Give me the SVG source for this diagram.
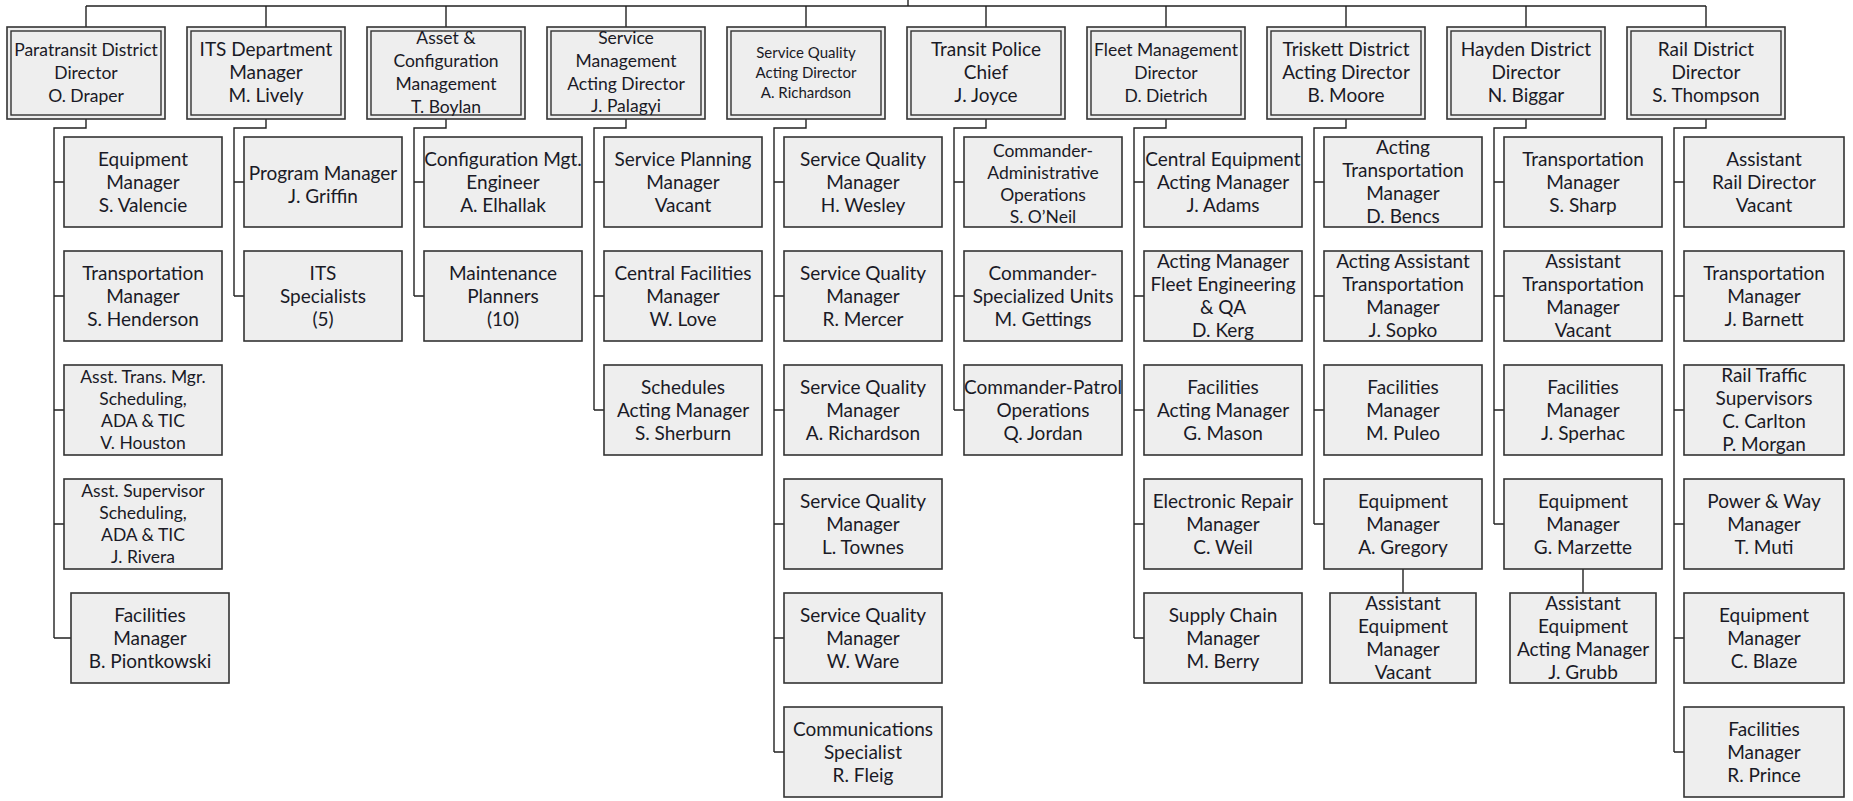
<svg xmlns="http://www.w3.org/2000/svg" width="1853" height="801" viewBox="0 0 1853 801">
<style>
.bg{fill:#ffffff}
.o{fill:#eeeeee;stroke:#333;stroke-width:1.6}
.i{fill:none;stroke:#333;stroke-width:1.4}
.b{fill:#eeeeee;stroke:#333;stroke-width:1.6}
.c{fill:none;stroke:#222;stroke-width:1.4}
text{font-family:Lato,"Open Sans","Liberation Sans",sans-serif;font-size:19px;fill:#1a1a26;text-anchor:middle}
.s17{font-size:17.5px}
.s15{font-size:15px}
</style>
<rect class="bg" x="0" y="0" width="1853" height="801"/>
<g id="connectors">
<path class="c" d="M86,6 H1706 M908,0 V6 M86,6 V27 M266,6 V27 M446,6 V27 M626,6 V27 M806,6 V27 M986,6 V27 M1166,6 V27 M1346,6 V27 M1526,6 V27 M1706,6 V27"/>
<path class="c" d="M86,119 V128 H54 V638 M54,182 H64 M54,296 H64 M54,410 H64 M54,524 H64 M54,638 H71"/>
<path class="c" d="M266,119 V128 H234 V296 M234,182 H244 M234,296 H244"/>
<path class="c" d="M446,119 V128 H414 V296 M414,182 H424 M414,296 H424"/>
<path class="c" d="M626,119 V128 H594 V410 M594,182 H604 M594,296 H604 M594,410 H604"/>
<path class="c" d="M806,119 V128 H774 V752 M774,182 H784 M774,296 H784 M774,410 H784 M774,524 H784 M774,638 H784 M774,752 H784"/>
<path class="c" d="M986,119 V128 H954 V410 M954,182 H964 M954,296 H964 M954,410 H964"/>
<path class="c" d="M1166,119 V128 H1134 V638 M1134,182 H1144 M1134,296 H1144 M1134,410 H1144 M1134,524 H1144 M1134,638 H1144"/>
<path class="c" d="M1346,119 V128 H1314 V524 M1314,182 H1324 M1314,296 H1324 M1314,410 H1324 M1314,524 H1324 M1403,569 V593"/>
<path class="c" d="M1526,119 V128 H1494 V524 M1494,182 H1504 M1494,296 H1504 M1494,410 H1504 M1494,524 H1504 M1583,569 V593"/>
<path class="c" d="M1706,119 V128 H1674 V752 M1674,182 H1684 M1674,296 H1684 M1674,410 H1684 M1674,524 H1684 M1674,638 H1684 M1674,752 H1684"/>
</g>

<!-- Top level -->
<g id="paratransit"><rect class="o" x="7" y="27" width="158" height="92"/><rect class="i" x="11" y="31" width="150" height="84"/>
<text class="s17"><tspan x="86" y="56">Paratransit District</tspan><tspan x="86" y="79">Director</tspan><tspan x="86" y="102">O. Draper</tspan></text></g>
<g id="its"><rect class="o" x="187" y="27" width="158" height="92"/><rect class="i" x="191" y="31" width="150" height="84"/>
<text><tspan x="266" y="56">ITS Department</tspan><tspan x="266" y="79">Manager</tspan><tspan x="266" y="102">M. Lively</tspan></text></g>
<g id="asset"><rect class="o" x="367" y="27" width="158" height="92"/><rect class="i" x="371" y="31" width="150" height="84"/>
<text class="s17"><tspan x="446" y="44">Asset &amp;</tspan><tspan x="446" y="67">Configuration</tspan><tspan x="446" y="90">Management</tspan><tspan x="446" y="113">T. Boylan</tspan></text></g>
<g id="service-mgmt"><rect class="o" x="547" y="27" width="158" height="92"/><rect class="i" x="551" y="31" width="150" height="84"/>
<text class="s17"><tspan x="626" y="44">Service</tspan><tspan x="626" y="67">Management</tspan><tspan x="626" y="90">Acting Director</tspan><tspan x="626" y="112">J. Palagyi</tspan></text></g>
<g id="service-quality"><rect class="o" x="727" y="27" width="158" height="92"/><rect class="i" x="731" y="31" width="150" height="84"/>
<text class="s15"><tspan x="806" y="58">Service Quality</tspan><tspan x="806" y="78">Acting Director</tspan><tspan x="806" y="98">A. Richardson</tspan></text></g>
<g id="police"><rect class="o" x="907" y="27" width="158" height="92"/><rect class="i" x="911" y="31" width="150" height="84"/>
<text><tspan x="986" y="56">Transit Police</tspan><tspan x="986" y="79">Chief</tspan><tspan x="986" y="102">J. Joyce</tspan></text></g>
<g id="fleet"><rect class="o" x="1087" y="27" width="158" height="92"/><rect class="i" x="1091" y="31" width="150" height="84"/>
<text class="s17"><tspan x="1166" y="56">Fleet Management</tspan><tspan x="1166" y="79">Director</tspan><tspan x="1166" y="102">D. Dietrich</tspan></text></g>
<g id="triskett"><rect class="o" x="1267" y="27" width="158" height="92"/><rect class="i" x="1271" y="31" width="150" height="84"/>
<text><tspan x="1346" y="56">Triskett District</tspan><tspan x="1346" y="79">Acting Director</tspan><tspan x="1346" y="102">B. Moore</tspan></text></g>
<g id="hayden"><rect class="o" x="1447" y="27" width="158" height="92"/><rect class="i" x="1451" y="31" width="150" height="84"/>
<text><tspan x="1526" y="56">Hayden District</tspan><tspan x="1526" y="79">Director</tspan><tspan x="1526" y="102">N. Biggar</tspan></text></g>
<g id="rail"><rect class="o" x="1627" y="27" width="158" height="92"/><rect class="i" x="1631" y="31" width="150" height="84"/>
<text><tspan x="1706" y="56">Rail District</tspan><tspan x="1706" y="79">Director</tspan><tspan x="1706" y="102">S. Thompson</tspan></text></g>

<!-- Paratransit children -->
<g id="p1"><rect class="b" x="64" y="137" width="158" height="90"/><text><tspan x="143" y="166">Equipment</tspan><tspan x="143" y="189">Manager</tspan><tspan x="143" y="212">S. Valencie</tspan></text></g>
<g id="p2"><rect class="b" x="64" y="251" width="158" height="90"/><text><tspan x="143" y="280">Transportation</tspan><tspan x="143" y="303">Manager</tspan><tspan x="143" y="326">S. Henderson</tspan></text></g>
<g id="p3"><rect class="b" x="64" y="365" width="158" height="90"/><text class="s17"><tspan x="143" y="383">Asst. Trans. Mgr.</tspan><tspan x="143" y="405">Scheduling,</tspan><tspan x="143" y="427">ADA &amp; TIC</tspan><tspan x="143" y="449">V. Houston</tspan></text></g>
<g id="p4"><rect class="b" x="64" y="479" width="158" height="90"/><text class="s17"><tspan x="143" y="497">Asst. Supervisor</tspan><tspan x="143" y="519">Scheduling,</tspan><tspan x="143" y="541">ADA &amp; TIC</tspan><tspan x="143" y="563">J. Rivera</tspan></text></g>
<g id="p5"><rect class="b" x="71" y="593" width="158" height="90"/><text><tspan x="150" y="622">Facilities</tspan><tspan x="150" y="645">Manager</tspan><tspan x="150" y="668">B. Piontkowski</tspan></text></g>

<!-- ITS children -->
<g id="i1"><rect class="b" x="244" y="137" width="158" height="90"/><text><tspan x="323" y="180">Program Manager</tspan><tspan x="323" y="203">J. Griffin</tspan></text></g>
<g id="i2"><rect class="b" x="244" y="251" width="158" height="90"/><text><tspan x="323" y="280">ITS</tspan><tspan x="323" y="303">Specialists</tspan><tspan x="323" y="326">(5)</tspan></text></g>

<!-- Asset children -->
<g id="a1"><rect class="b" x="424" y="137" width="158" height="90"/><text><tspan x="503" y="166">Configuration Mgt.</tspan><tspan x="503" y="189">Engineer</tspan><tspan x="503" y="212">A. Elhallak</tspan></text></g>
<g id="a2"><rect class="b" x="424" y="251" width="158" height="90"/><text><tspan x="503" y="280">Maintenance</tspan><tspan x="503" y="303">Planners</tspan><tspan x="503" y="326">(10)</tspan></text></g>

<!-- Service Management children -->
<g id="sm1"><rect class="b" x="604" y="137" width="158" height="90"/><text><tspan x="683" y="166">Service Planning</tspan><tspan x="683" y="189">Manager</tspan><tspan x="683" y="212">Vacant</tspan></text></g>
<g id="sm2"><rect class="b" x="604" y="251" width="158" height="90"/><text><tspan x="683" y="280">Central Facilities</tspan><tspan x="683" y="303">Manager</tspan><tspan x="683" y="326">W. Love</tspan></text></g>
<g id="sm3"><rect class="b" x="604" y="365" width="158" height="90"/><text><tspan x="683" y="394">Schedules</tspan><tspan x="683" y="417">Acting Manager</tspan><tspan x="683" y="440">S. Sherburn</tspan></text></g>

<!-- Service Quality children -->
<g id="sq1"><rect class="b" x="784" y="137" width="158" height="90"/><text><tspan x="863" y="166">Service Quality</tspan><tspan x="863" y="189">Manager</tspan><tspan x="863" y="212">H. Wesley</tspan></text></g>
<g id="sq2"><rect class="b" x="784" y="251" width="158" height="90"/><text><tspan x="863" y="280">Service Quality</tspan><tspan x="863" y="303">Manager</tspan><tspan x="863" y="326">R. Mercer</tspan></text></g>
<g id="sq3"><rect class="b" x="784" y="365" width="158" height="90"/><text><tspan x="863" y="394">Service Quality</tspan><tspan x="863" y="417">Manager</tspan><tspan x="863" y="440">A. Richardson</tspan></text></g>
<g id="sq4"><rect class="b" x="784" y="479" width="158" height="90"/><text><tspan x="863" y="508">Service Quality</tspan><tspan x="863" y="531">Manager</tspan><tspan x="863" y="554">L. Townes</tspan></text></g>
<g id="sq5"><rect class="b" x="784" y="593" width="158" height="90"/><text><tspan x="863" y="622">Service Quality</tspan><tspan x="863" y="645">Manager</tspan><tspan x="863" y="668">W. Ware</tspan></text></g>
<g id="sq6"><rect class="b" x="784" y="707" width="158" height="90"/><text><tspan x="863" y="736">Communications</tspan><tspan x="863" y="759">Specialist</tspan><tspan x="863" y="782">R. Fleig</tspan></text></g>

<!-- Police children -->
<g id="tp1"><rect class="b" x="964" y="137" width="158" height="90"/><text class="s17"><tspan x="1043" y="157">Commander-</tspan><tspan x="1043" y="179">Administrative</tspan><tspan x="1043" y="201">Operations</tspan><tspan x="1043" y="223">S. O’Neil</tspan></text></g>
<g id="tp2"><rect class="b" x="964" y="251" width="158" height="90"/><text><tspan x="1043" y="280">Commander-</tspan><tspan x="1043" y="303">Specialized Units</tspan><tspan x="1043" y="326">M. Gettings</tspan></text></g>
<g id="tp3"><rect class="b" x="964" y="365" width="158" height="90"/><text><tspan x="1043" y="394">Commander-Patrol</tspan><tspan x="1043" y="417">Operations</tspan><tspan x="1043" y="440">Q. Jordan</tspan></text></g>

<!-- Fleet children -->
<g id="f1"><rect class="b" x="1144" y="137" width="158" height="90"/><text><tspan x="1223" y="166">Central Equipment</tspan><tspan x="1223" y="189">Acting Manager</tspan><tspan x="1223" y="212">J. Adams</tspan></text></g>
<g id="f2"><rect class="b" x="1144" y="251" width="158" height="90"/><text><tspan x="1223" y="268">Acting Manager</tspan><tspan x="1223" y="291">Fleet Engineering</tspan><tspan x="1223" y="314">&amp; QA</tspan><tspan x="1223" y="337">D. Kerg</tspan></text></g>
<g id="f3"><rect class="b" x="1144" y="365" width="158" height="90"/><text><tspan x="1223" y="394">Facilities</tspan><tspan x="1223" y="417">Acting Manager</tspan><tspan x="1223" y="440">G. Mason</tspan></text></g>
<g id="f4"><rect class="b" x="1144" y="479" width="158" height="90"/><text><tspan x="1223" y="508">Electronic Repair</tspan><tspan x="1223" y="531">Manager</tspan><tspan x="1223" y="554">C. Weil</tspan></text></g>
<g id="f5"><rect class="b" x="1144" y="593" width="158" height="90"/><text><tspan x="1223" y="622">Supply Chain</tspan><tspan x="1223" y="645">Manager</tspan><tspan x="1223" y="668">M. Berry</tspan></text></g>

<!-- Triskett children -->
<g id="t1"><rect class="b" x="1324" y="137" width="158" height="90"/><text><tspan x="1403" y="154">Acting</tspan><tspan x="1403" y="177">Transportation</tspan><tspan x="1403" y="200">Manager</tspan><tspan x="1403" y="223">D. Bencs</tspan></text></g>
<g id="t2"><rect class="b" x="1324" y="251" width="158" height="90"/><text><tspan x="1403" y="268">Acting Assistant</tspan><tspan x="1403" y="291">Transportation</tspan><tspan x="1403" y="314">Manager</tspan><tspan x="1403" y="337">J. Sopko</tspan></text></g>
<g id="t3"><rect class="b" x="1324" y="365" width="158" height="90"/><text><tspan x="1403" y="394">Facilities</tspan><tspan x="1403" y="417">Manager</tspan><tspan x="1403" y="440">M. Puleo</tspan></text></g>
<g id="t4"><rect class="b" x="1324" y="479" width="158" height="90"/><text><tspan x="1403" y="508">Equipment</tspan><tspan x="1403" y="531">Manager</tspan><tspan x="1403" y="554">A. Gregory</tspan></text></g>
<g id="t5"><rect class="b" x="1330" y="593" width="146" height="90"/><text><tspan x="1403" y="610">Assistant</tspan><tspan x="1403" y="633">Equipment</tspan><tspan x="1403" y="656">Manager</tspan><tspan x="1403" y="679">Vacant</tspan></text></g>

<!-- Hayden children -->
<g id="h1"><rect class="b" x="1504" y="137" width="158" height="90"/><text><tspan x="1583" y="166">Transportation</tspan><tspan x="1583" y="189">Manager</tspan><tspan x="1583" y="212">S. Sharp</tspan></text></g>
<g id="h2"><rect class="b" x="1504" y="251" width="158" height="90"/><text><tspan x="1583" y="268">Assistant</tspan><tspan x="1583" y="291">Transportation</tspan><tspan x="1583" y="314">Manager</tspan><tspan x="1583" y="337">Vacant</tspan></text></g>
<g id="h3"><rect class="b" x="1504" y="365" width="158" height="90"/><text><tspan x="1583" y="394">Facilities</tspan><tspan x="1583" y="417">Manager</tspan><tspan x="1583" y="440">J. Sperhac</tspan></text></g>
<g id="h4"><rect class="b" x="1504" y="479" width="158" height="90"/><text><tspan x="1583" y="508">Equipment</tspan><tspan x="1583" y="531">Manager</tspan><tspan x="1583" y="554">G. Marzette</tspan></text></g>
<g id="h5"><rect class="b" x="1510" y="593" width="146" height="90"/><text><tspan x="1583" y="610">Assistant</tspan><tspan x="1583" y="633">Equipment</tspan><tspan x="1583" y="656">Acting Manager</tspan><tspan x="1583" y="679">J. Grubb</tspan></text></g>

<!-- Rail children -->
<g id="r1"><rect class="b" x="1684" y="137" width="160" height="90"/><text><tspan x="1764" y="166">Assistant</tspan><tspan x="1764" y="189">Rail Director</tspan><tspan x="1764" y="212">Vacant</tspan></text></g>
<g id="r2"><rect class="b" x="1684" y="251" width="160" height="90"/><text><tspan x="1764" y="280">Transportation</tspan><tspan x="1764" y="303">Manager</tspan><tspan x="1764" y="326">J. Barnett</tspan></text></g>
<g id="r3"><rect class="b" x="1684" y="365" width="160" height="90"/><text><tspan x="1764" y="382">Rail Traffic</tspan><tspan x="1764" y="405">Supervisors</tspan><tspan x="1764" y="428">C. Carlton</tspan><tspan x="1764" y="451">P. Morgan</tspan></text></g>
<g id="r4"><rect class="b" x="1684" y="479" width="160" height="90"/><text><tspan x="1764" y="508">Power &amp; Way</tspan><tspan x="1764" y="531">Manager</tspan><tspan x="1764" y="554">T. Muti</tspan></text></g>
<g id="r5"><rect class="b" x="1684" y="593" width="160" height="90"/><text><tspan x="1764" y="622">Equipment</tspan><tspan x="1764" y="645">Manager</tspan><tspan x="1764" y="668">C. Blaze</tspan></text></g>
<g id="r6"><rect class="b" x="1684" y="707" width="160" height="90"/><text><tspan x="1764" y="736">Facilities</tspan><tspan x="1764" y="759">Manager</tspan><tspan x="1764" y="782">R. Prince</tspan></text></g>
</svg>
